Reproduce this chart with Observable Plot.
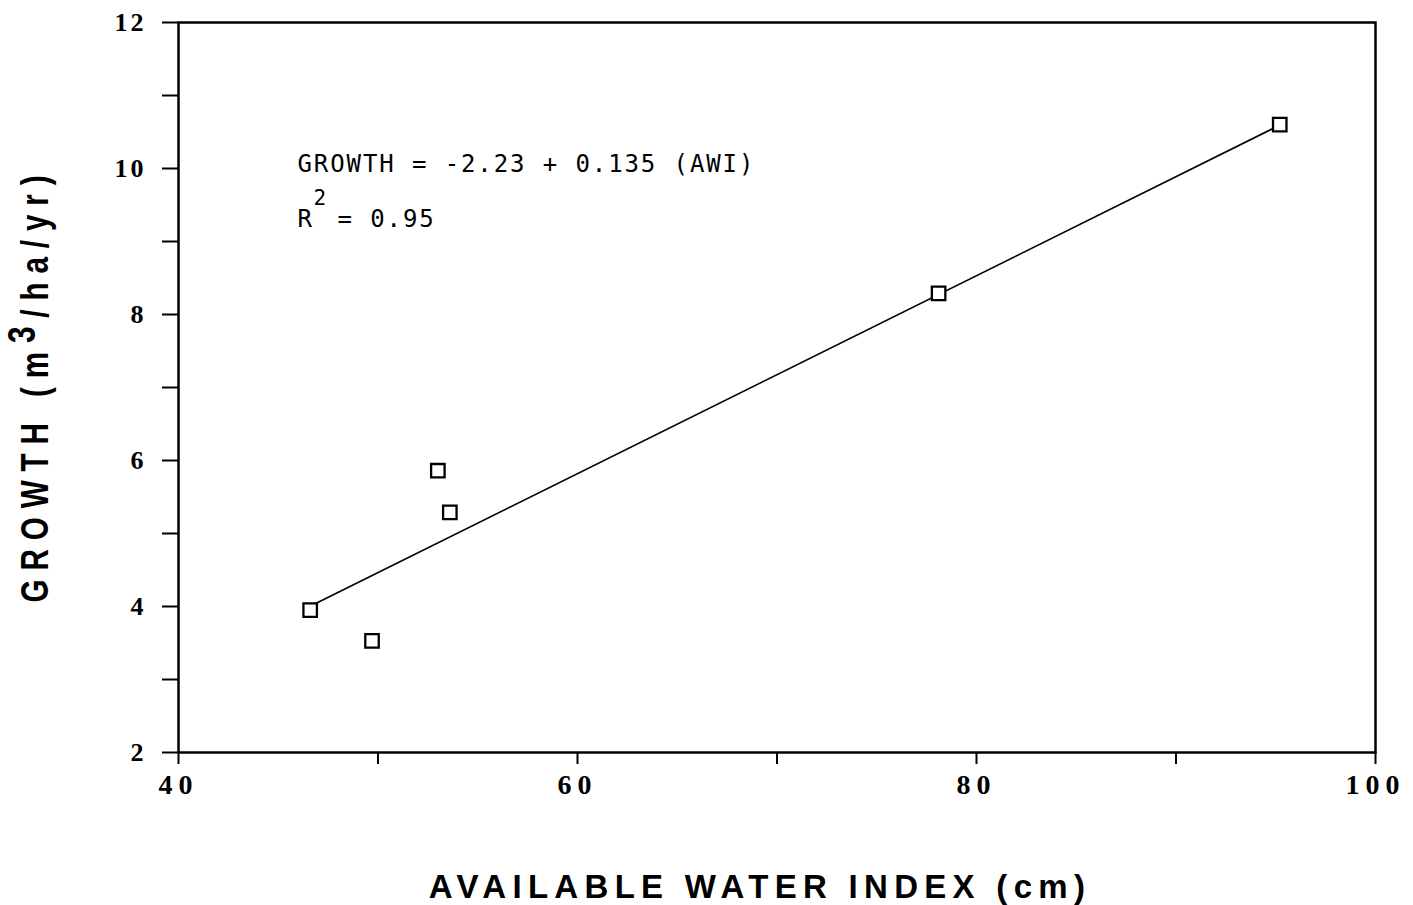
<!DOCTYPE html>
<html><head><meta charset="utf-8">
<script src="https://cdn.jsdelivr.net/npm/d3@7"></script>
<script src="https://cdn.jsdelivr.net/npm/@observablehq/plot@0.6"></script>
<style>body{margin:0;background:#fff} svg{display:block}</style>
</head><body><div id="chart"></div>
<script>
// Data
const awi = [46.6, 49.7, 53.0, 53.6, 78.1, 95.2];
const growth = [3.95, 3.53, 5.86, 5.29, 8.29, 10.6];
const fitX = [46.8, 95.1];
const fitY = [4.03, 10.58];
const xTicks = [40, 50, 60, 70, 80, 90, 100];
const xTickLabels = ["40", "", "60", "", "80", "", "100"];
const yTicks = [2, 3, 4, 5, 6, 7, 8, 9, 10, 11, 12];
const yTickLabels = ["2", "", "4", "", "6", "", "8", "", "10", "", "12"];
const equation = "GROWTH = -2.23 + 0.135 (AWI)";
const r2Parts = ["R", "2", "= 0.95"];
const xTitle = "AVAILABLE WATER INDEX (cm)";
const yTitleParts = ["GROWTH (m", "3", "/ha/yr)"];

const points = awi.map((x, i) => ({x, y: growth[i]}));
const fit = fitX.map((x, i) => ({x, y: fitY[i]}));

const tickFont = "'Liberation Serif', serif";
const monoFont = "'DejaVu Sans Mono', monospace";
const sansFont = "'Liberation Sans', Arial, sans-serif";

const chart = Plot.plot({
  width: 1413,
  height: 905,
  marginLeft: 178,
  marginRight: 38,
  marginTop: 22,
  marginBottom: 153,
  x: {domain: [40, 100]},
  y: {domain: [2, 12]},
  style: {background: "white", color: "black"},
  marks: [
    Plot.axisX({ticks: xTicks, tickFormat: d => xTickLabels[xTicks.indexOf(d)], tickSize: 12, tickPadding: 10,
      strokeWidth: 2, fontSize: 28, fontFamily: tickFont, fontWeight: "bold", label: null}),
    Plot.axisY({ticks: yTicks, tickFormat: d => yTickLabels[yTicks.indexOf(d)], tickSize: 16, tickPadding: 16,
      strokeWidth: 2, fontSize: 26, fontFamily: tickFont, fontWeight: "bold", label: null}),
    Plot.frame({stroke: "black", strokeWidth: 2.5}),
    Plot.line(fit, {x: "x", y: "y", stroke: "black", strokeWidth: 1.6}),
    Plot.dot(points, {x: "x", y: "y", symbol: "square", r: 7.6, stroke: "black", strokeWidth: 2.3, fill: "white"}),
    Plot.text([equation], {text: d => d, frameAnchor: "top-left", dx: 119, dy: 142, textAnchor: "start", lineAnchor: "middle",
      fontFamily: monoFont, fontSize: 24, fill: "black"}),
    Plot.text([r2Parts[0]], {text: d => d, frameAnchor: "top-left", dx: 119, dy: 197, textAnchor: "start", lineAnchor: "middle",
      fontFamily: monoFont, fontSize: 24, fill: "black"}),
    Plot.text([r2Parts[1]], {text: d => d, frameAnchor: "top-left", dx: 135, dy: 176, textAnchor: "start", lineAnchor: "middle",
      fontFamily: monoFont, fontSize: 21, fill: "black"}),
    Plot.text([r2Parts[2]], {text: d => d, frameAnchor: "top-left", dx: 159, dy: 197, textAnchor: "start", lineAnchor: "middle",
      fontFamily: monoFont, fontSize: 24, fill: "black"}),
    Plot.text([xTitle], {text: d => d, frameAnchor: "bottom", dx: -17, dy: 135, textAnchor: "middle", lineAnchor: "middle",
      fontFamily: sansFont, fontSize: 33, fontWeight: "bold", fill: "black"}),
    Plot.text([yTitleParts.join("")], {text: d => d, frameAnchor: "left", dx: -143, dy: -3, rotate: -90, textAnchor: "middle", lineAnchor: "middle",
      fontFamily: sansFont, fontSize: 38, fontWeight: "bold", fill: "black"})
  ]
});
document.getElementById("chart").appendChild(chart);

const svg = d3.select(chart);
// tick label typography
svg.selectAll('g[aria-label="x-axis tick label"] text')
  .style("font-size", "28px").style("font-family", tickFont).style("font-weight", "bold").style("letter-spacing", "6px");
svg.selectAll('g[aria-label="y-axis tick label"] text')
  .style("font-size", "26px").style("font-family", tickFont).style("font-weight", "bold").style("letter-spacing", "3px");
svg.selectAll('g[aria-label="text"] text').each(function() {
  const t = d3.select(this);
  const s = t.text();
  if (s === equation || s === r2Parts[0] || s === r2Parts[2] || s === r2Parts[1]) t.style("letter-spacing", "1.9px");
  if (s === xTitle) t.style("letter-spacing", "6.3px");
  if (s === yTitleParts.join("")) {
    t.style("letter-spacing", "11.4px");
    const tr = t.attr("transform") || "";
    t.attr("transform", tr + " scale(0.78,1)");
    t.text(null);
    t.append("tspan").text(yTitleParts[0]);
    t.append("tspan").attr("dy", "-0.34em").text(yTitleParts[1]);
    t.append("tspan").attr("dy", "0.34em").text(yTitleParts[2]);
  }
});
</script>
</body></html>
